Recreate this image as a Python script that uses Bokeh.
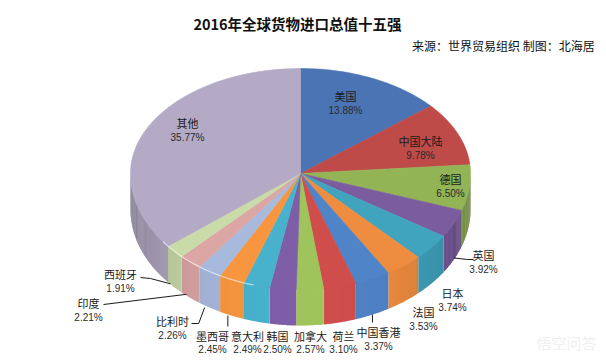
import numpy as np
from bokeh.plotting import figure
from bokeh.models import Range1d, ColumnDataSource
from bokeh.core.properties import value
from bokeh.embed import file_html
from bokeh.resources import INLINE

# ---- data ----
countries = ["美国", "中国大陆", "德国", "英国", "日本", "法国", "中国香港", "荷兰",
             "加拿大", "韩国", "意大利", "墨西哥", "比利时", "印度", "西班牙", "其他"]
shares = [13.88, 9.78, 6.50, 3.92, 3.74, 3.53, 3.37, 3.10,
          2.57, 2.50, 2.49, 2.45, 2.26, 2.21, 1.91, 35.77]
colors = ["#4A74B4", "#BE4B48", "#93B455", "#7B5C9E", "#40A4BF", "#EE8C3F", "#4F84C8", "#CF4E4B",
          "#A0C45C", "#7F5EA8", "#48B2CC", "#F8963F", "#A7B9DD", "#DCA6A5", "#C9DBA9", "#B4AAC6"]
title_text = "2016年全球货物进口总值十五强"
source_text = "来源：世界贸易组织  制图：北海居"

# ---- layout (label anchors, in page pixels) ----
label_x = [345, 420, 450, 483, 452, 423, 378, 343, 310, 277, 247, 212, 172, 88, 120, 187]
label_y = [95, 140, 178, 254, 292, 311, 331, 335, 335, 335, 335, 335, 320, 302, 273, 122]
pct_dy = [15, 15, 15, 15, 15, 15, 15, 14, 14, 14, 14, 14, 15, 15, 15, 15]

CX, CY, A, BB, BF, D = 300.0, 173.0, 170.0, 105.0, 116.0, 36.0

def ell(theta_deg):
    t = np.radians(np.asarray(theta_deg, dtype=float))
    c = np.cos(t)
    b = np.where(c > 0, BB, BF)
    return CX + A * np.sin(t), CY - b * c

def shade(hexc, f):
    r, g, b = int(hexc[1:3], 16), int(hexc[3:5], 16), int(hexc[5:7], 16)
    return "#%02x%02x%02x" % tuple(int(max(0, min(255, round(v * f)))) for v in (r, g, b))

total = sum(shares)
cum = np.concatenate([[0.0], np.cumsum(shares)]) / total * 360.0

p = figure(width=598, height=356, output_backend="svg", toolbar_location=None,
           x_range=Range1d(0, 598), y_range=Range1d(356, 0), min_border=0)
p.axis.visible = False
p.grid.visible = False
p.outline_line_color = None
p.background_fill_color = "white"

# sides (thin overlapping strips with shading toward the rim ends)
sx, sy, sc = [], [], []
for i in range(len(shares)):
    lo, hi = max(cum[i], 90.0), min(cum[i + 1], 270.0)
    if hi <= lo:
        continue
    n = int(np.ceil((hi - lo) / 1.0))
    edges = np.linspace(lo, hi, n + 1)
    for k, (a, b) in enumerate(zip(edges[:-1], edges[1:])):
        bb = b + 0.4 if k < n - 1 else b
        ex, ey = ell([a, bb])
        sx.append([ex[0], ex[1], ex[1], ex[0]])
        sy.append([ey[0] - 0.5, ey[1] - 0.5, ey[1] + D, ey[0] + D])
        phi = np.radians((a + b) / 2 - 90)
        f = 0.6 + 0.4 * np.sin(phi) ** 0.6
        sc.append(shade(colors[i], f))
p.patches(sx, sy, fill_color=sc, line_color=None)

# top faces
tx, ty = [], []
for i in range(len(shares)):
    th = np.linspace(cum[i], cum[i + 1], max(3, int(cum[i + 1] - cum[i]) + 2))
    ex, ey = ell(th)
    tx.append([CX] + list(ex))
    ty.append([CY] + list(ey))
p.patches(tx, ty, fill_color=colors, line_color=colors, line_width=0.6)

# highlight along front edge
hx, hy = ell(np.linspace(196, 234, 40))
p.line(hx, hy, line_color="white", line_alpha=0.6, line_width=1.2)

# leader lines: start on the side of slice at mid angle
def side_pt(i, frac):
    m = (cum[i] + cum[i + 1]) / 2
    ex, ey = ell([m])
    return float(ex[0]), float(ey[0]) + D * frac

leaders = []
idx = {c: k for k, c in enumerate(countries)}
s = side_pt(idx["英国"], 0.95); lx, ly = label_x[idx["英国"]], label_y[idx["英国"]]
leaders.append(([s[0], lx - 16, lx - 10], [s[1], ly + 5, ly + 5]))
s = side_pt(idx["中国香港"], 1.0); ly = label_y[idx["中国香港"]]
leaders.append(([s[0], s[0]], [s[1], ly - 9]))
s = side_pt(idx["墨西哥"], 1.0); lx, ly = label_x[idx["墨西哥"]], label_y[idx["墨西哥"]]
leaders.append(([s[0] - 4, s[0] - 4], [s[1], ly - 9]))
s = side_pt(idx["比利时"], 1.0); lx, ly = label_x[idx["比利时"]], label_y[idx["比利时"]]
leaders.append(([s[0] - 5, s[0] - 11, lx + 19], [s[1], ly + 3, ly + 3]))
s = side_pt(idx["印度"], 0.9); lx, ly = label_x[idx["印度"]], label_y[idx["印度"]]
leaders.append(([s[0] - 4, lx + 15], [s[1], ly + 2]))
s = side_pt(idx["西班牙"], 0.9); lx, ly = label_x[idx["西班牙"]], label_y[idx["西班牙"]]
leaders.append(([s[0] - 4, lx + 30, lx + 20], [s[1], ly + 5, ly + 4]))
p.multi_line([l[0] for l in leaders], [l[1] for l in leaders], line_color="#1a1a1a", line_width=1)

# labels
pct = ["%.2f%%" % v for v in shares]
src = ColumnDataSource(dict(x=label_x, y=label_y, y2=[v + d for v, d in zip(label_y, pct_dy)],
                            name=countries, pct=pct))
p.text(x="x", y="y", text="name", source=src, text_align="center", text_baseline="middle",
       text_font=value("Noto Sans CJK SC"), text_font_size=value("11px"), text_color="#1a1a1a")
p.text(x="x", y="y2", text="pct", source=src, text_align="center", text_baseline="middle",
       text_font=value("Liberation Sans"), text_font_size=value("10px"), text_color="#2a2a2a")

# title & source
p.text(x=[297], y=[23], text=[title_text], text_align="center", text_baseline="middle",
       text_font=value("Noto Sans CJK SC"), text_font_size=value("14.5px"),
       text_font_style="bold", text_color="#111111")
p.text(x=[597], y=[45], text=[source_text], text_align="right", text_baseline="middle",
       text_font=value("Noto Sans CJK SC"), text_font_size=value("12px"), text_color="#111111")

# faint watermark
p.text(x=[596], y=[342], text=["悟空问答"], text_align="right", text_baseline="middle",
       text_font=value("Noto Sans CJK SC"), text_font_size=value("15px"), text_color="#efefef")

open("out.html", "w").write(file_html(p, INLINE))
